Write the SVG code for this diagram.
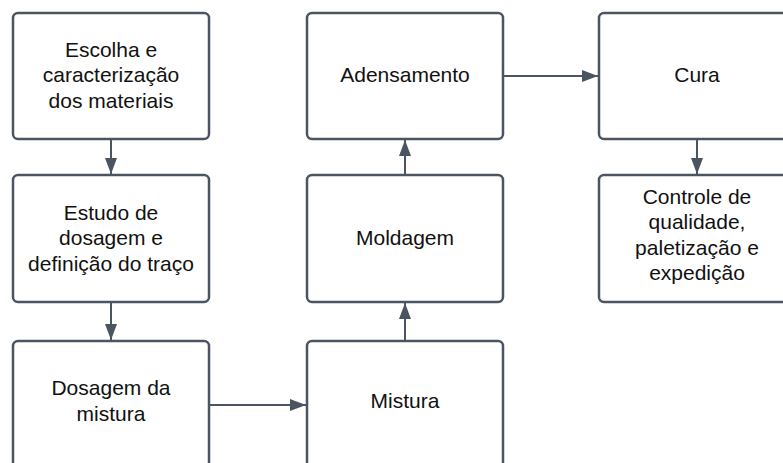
<svg xmlns="http://www.w3.org/2000/svg" width="783" height="463" viewBox="0 0 783 463">
<style>
.box{fill:#ffffff;stroke:#4b5561;stroke-width:2.5}
.lbl{font-family:"Liberation Sans",Arial,sans-serif;font-size:21px;fill:#111111;text-anchor:middle}
.conn{stroke:#4b5561;stroke-width:2;fill:none;marker-end:url(#ah)}
</style>
<defs>
<marker id="ah" markerUnits="userSpaceOnUse" markerWidth="17" markerHeight="13" refX="16" refY="6" orient="auto">
<path d="M0,0 L16,6 L0,12 z" fill="#4b5561"/>
</marker>
</defs>
<rect width="783" height="463" fill="#ffffff"/>
<g id="connectors">
<line class="conn" x1="111" y1="139" x2="111" y2="174"/>
<line class="conn" x1="111" y1="302" x2="111" y2="340"/>
<line class="conn" x1="209" y1="405" x2="306" y2="405"/>
<line class="conn" x1="405" y1="341" x2="405" y2="303"/>
<line class="conn" x1="405" y1="175" x2="405" y2="140"/>
<line class="conn" x1="503" y1="76" x2="598" y2="76"/>
<line class="conn" x1="697" y1="139" x2="697" y2="174"/>
</g>
<g id="n1">
<rect class="box" x="13" y="13" width="196" height="126" rx="5"/>
<text class="lbl"><tspan x="111" y="56.5">Escolha e</tspan><tspan x="111" y="82">caracterização</tspan><tspan x="111" y="107.5">dos materiais</tspan></text>
</g>
<g id="n2">
<rect class="box" x="13" y="175" width="196" height="127" rx="5"/>
<text class="lbl"><tspan x="111" y="219.5">Estudo de</tspan><tspan x="111" y="245">dosagem e</tspan><tspan x="111" y="270.5">definição do traço</tspan></text>
</g>
<g id="n3">
<rect class="box" x="13" y="341" width="196" height="128" rx="5"/>
<text class="lbl"><tspan x="111" y="395">Dosagem da</tspan><tspan x="111" y="421">mistura</tspan></text>
</g>
<g id="n4">
<rect class="box" x="307" y="341" width="196" height="128" rx="5"/>
<text class="lbl" x="405" y="408">Mistura</text>
</g>
<g id="n5">
<rect class="box" x="307" y="175" width="196" height="127" rx="5"/>
<text class="lbl" x="405" y="245">Moldagem</text>
</g>
<g id="n6">
<rect class="box" x="307" y="13" width="196" height="126" rx="5"/>
<text class="lbl" x="405" y="82">Adensamento</text>
</g>
<g id="n7">
<rect class="box" x="599" y="13" width="196" height="126" rx="5"/>
<text class="lbl" x="697" y="82">Cura</text>
</g>
<g id="n8">
<rect class="box" x="599" y="175" width="196" height="127" rx="5"/>
<text class="lbl"><tspan x="697" y="203.5">Controle de</tspan><tspan x="697" y="229">qualidade,</tspan><tspan x="697" y="254.5">paletização e</tspan><tspan x="697" y="280">expedição</tspan></text>
</g>
</svg>
